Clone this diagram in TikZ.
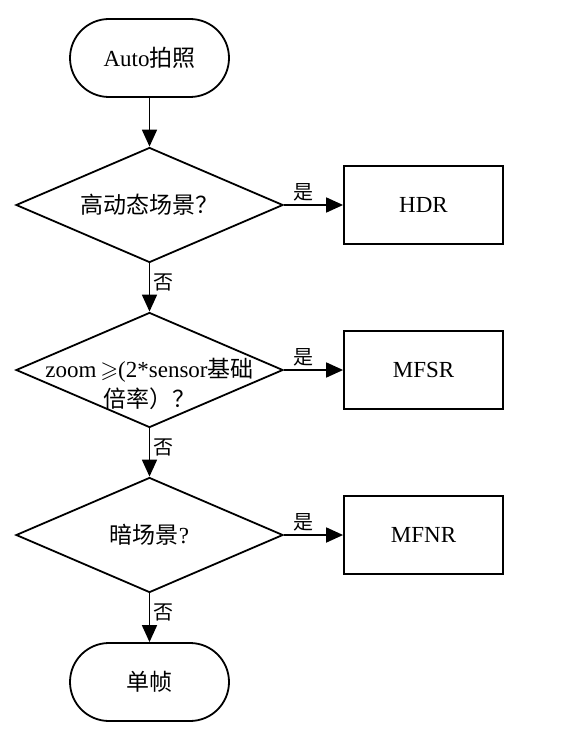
\documentclass[tikz,border=0pt]{standalone}
\usepackage{fontspec}
\usepackage{amssymb}
\setmainfont{Liberation Serif}
\newfontfamily\cjk{Noto Sans CJK SC}
\usetikzlibrary{shapes.geometric, arrows.meta}

\tikzset{
  startstop/.style={draw, line width=1.8pt, rounded corners=39pt,
    minimum width=159pt, minimum height=78pt, font=\fontsize{23}{27}\selectfont},
  decision/.style={draw, diamond, line width=1.8pt, inner sep=0pt,
    minimum width=267pt, minimum height=115pt},
  decisiontext/.style={align=center, font=\fontsize{23}{30}\selectfont},
  process/.style={draw, line width=1.8pt, minimum width=159pt,
    minimum height=78pt, font=\fontsize{23}{27}\selectfont},
  flow/.style={line width=1.8pt, -{Triangle[length=17pt, width=15pt]}},
  yeslabel/.style={above, pos=0.33, inner sep=3pt, font=\fontsize{20}{22}\selectfont\cjk},
  nolabel/.style={right, pos=0.4, inner sep=3pt, font=\fontsize{20}{22}\selectfont\cjk}
}

\begin{document}
\begin{tikzpicture}[x=1pt, y=-1pt]
  \useasboundingbox (0,0) rectangle (560,743);

  % main column
  \node[startstop] (start) at (149.5,58) {Auto{\cjk 拍照}};
  \node[decision] (hdrq) at (149.5,205) {};
  \node[decisiontext] at (hdrq) {\cjk 高动态场景？};
  \node[decision] (zoomq) at (149.5,370) {};
  \node[decisiontext] at (149.5,384) {zoom\,$\geqslant$(2*sensor{\cjk 基础}\\{\cjk 倍率）？}};
  \node[decision] (darkq) at (149.5,535) {};
  \node[decisiontext] at (darkq) {{\cjk 暗场景}?};
  \node[startstop] (single) at (149.5,682) {\cjk 单帧};

  % right column
  \node[process] (hdr) at (423.5,205) {HDR};
  \node[process] (mfsr) at (423.5,370) {MFSR};
  \node[process] (mfnr) at (423.5,535) {MFNR};

  % connectors
  \draw[flow] (start) -- (hdrq);
  \draw[flow] (hdrq) -- node[nolabel] {否} (zoomq);
  \draw[flow] (zoomq) -- node[nolabel] {否} (darkq);
  \draw[flow] (darkq) -- node[nolabel] {否} (single);
  \draw[flow] (hdrq) -- node[yeslabel] {是} (hdr);
  \draw[flow] (zoomq) -- node[yeslabel] {是} (mfsr);
  \draw[flow] (darkq) -- node[yeslabel] {是} (mfnr);
\end{tikzpicture}
\end{document}
